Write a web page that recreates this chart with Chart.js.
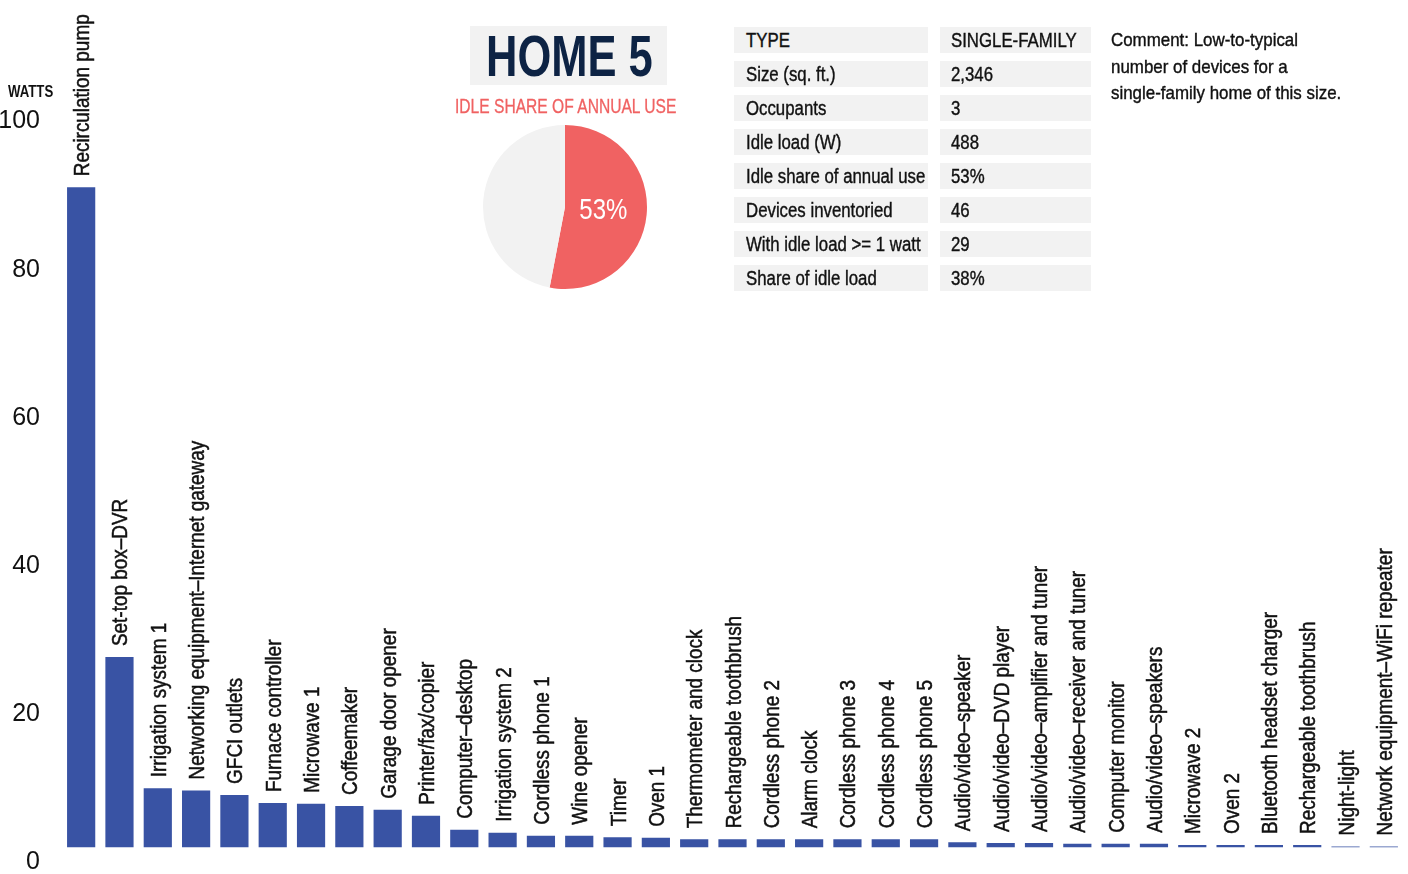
<!DOCTYPE html>
<html>
<head>
<meta charset="utf-8">
<script src="https://cdn.jsdelivr.net/npm/chart.js@4"></script>
<style>
  body { margin: 0; background: #fff; overflow: hidden; font-family: "Liberation Sans", Arial, sans-serif; color: #111; }
  #wrap { position: relative; width: 1408px; height: 874px; }
  #bars { position: absolute; left: 0; top: 0; }
  #pie { position: absolute; left: 481px; top: 123px; }
  .abs { position: absolute; white-space: nowrap; }
  .sq { display: inline-block; transform-origin: 0 50%; white-space: nowrap; }
  #watts { left: 8px; top: 82px; font-size: 16.5px; font-weight: bold; }
  #watts .sq { transform: scaleX(0.8); }
  #title { left: 470px; top: 26px; width: 197px; height: 59px; background: #f2f2f2; color: #0d2344;
           font-size: 58px; font-weight: bold; line-height: 59px; }
  #title .sq { transform: scaleX(0.75); margin-left: 16px; }
  #sub { left: 455px; top: 95px; color: #f06262; font-size: 20px; -webkit-text-stroke: 0.3px #f06262; }
  #sub .sq { transform: scaleX(0.78); }
  #info { left: 734px; top: 27px; }
  .row { position: relative; height: 26px; margin-bottom: 8px; }
  .cell { position: absolute; top: 0; height: 26px; background: #f2f2f2; font-size: 20px; line-height: 26px; padding-left: 12px; box-sizing: border-box; overflow: hidden; -webkit-text-stroke: 0.4px #111; }
  .cell .sq { transform: scaleX(0.84); }
  .c1 { left: 0; width: 194px; }
  .c2 { left: 206px; width: 151px; padding-left: 11px; }
  #comment { left: 1111px; top: 27px; font-size: 19px; line-height: 26.5px; -webkit-text-stroke: 0.4px #111; }
  #comment .sq { transform: scaleX(0.89); display: block; }
</style>
</head>
<body>
<div id="wrap">
  <canvas id="bars" width="1408" height="874"></canvas>
  <canvas id="pie" width="168" height="168"></canvas>
  <div id="watts" class="abs"><span class="sq">WATTS</span></div>
  <div id="title" class="abs"><span class="sq">HOME 5</span></div>
  <div id="sub" class="abs"><span class="sq">IDLE SHARE OF ANNUAL USE</span></div>
  <div id="info" class="abs"></div>
  <div id="comment" class="abs"><span class="sq">Comment: Low-to-typical</span><span class="sq">number of devices for a</span><span class="sq">single-family home of this size.</span></div>
</div>
<script>
// devices and their idle load in watts
var devices = [
  'Recirculation pump', 'Set-top box–DVR', 'Irrigation system 1',
  'Networking equipment–Internet gateway', 'GFCI outlets', 'Furnace controller',
  'Microwave 1', 'Coffeemaker', 'Garage door opener', 'Printer/fax/copier',
  'Computer–desktop', 'Irrigation system 2', 'Cordless phone 1', 'Wine opener',
  'Timer', 'Oven 1', 'Thermometer and clock', 'Rechargeable toothbrush',
  'Cordless phone 2', 'Alarm clock', 'Cordless phone 3', 'Cordless phone 4',
  'Cordless phone 5', 'Audio/video–speaker', 'Audio/video–DVD player',
  'Audio/video–amplifier and tuner', 'Audio/video–receiver and tuner',
  'Computer monitor', 'Audio/video–speakers', 'Microwave 2', 'Oven 2',
  'Bluetooth headset charger', 'Rechargeable toothbrush', 'Night-light',
  'Network equipment–WiFi repeater'
];
var watts = [
  89.1, 25.7, 8.0, 7.7, 7.1, 6.0, 5.9, 5.6, 5.1, 4.3,
  2.4, 2.0, 1.6, 1.6, 1.4, 1.3, 1.1, 1.1, 1.1, 1.1,
  1.1, 1.1, 1.1, 0.7, 0.6, 0.6, 0.5, 0.5, 0.5, 0.35,
  0.35, 0.35, 0.35, 0.15, 0.15
];
var yTicks = [0, 20, 40, 60, 80, 100];

// pie: idle share vs the rest
var pieLabels = ['Idle', 'Other'];
var pieValues = [53, 47];

// home summary table
var infoKeys = ['TYPE', 'Size (sq. ft.)', 'Occupants', 'Idle load (W)', 'Idle share of annual use',
  'Devices inventoried', 'With idle load >= 1 watt', 'Share of idle load'];
var infoValues = ['SINGLE-FAMILY', '2,346', '3', '488', '53%', '46', '29', '38%'];

var info = document.getElementById('info');
infoKeys.forEach(function (k, i) {
  var row = document.createElement('div');
  row.className = 'row';
  row.innerHTML = '<div class="cell c1"><span class="sq"></span></div><div class="cell c2"><span class="sq"></span></div>';
  row.children[0].firstChild.textContent = k;
  row.children[1].firstChild.textContent = infoValues[i];
  info.appendChild(row);
});

var FONT = '"Liberation Sans", Arial, sans-serif';
var blue = '#3953a4';

// write the device name up the bar
var barLabels = {
  id: 'barLabels',
  afterDatasetsDraw: function (chart) {
    var ctx = chart.ctx;
    var meta = chart.getDatasetMeta(0);
    ctx.save();
    ctx.fillStyle = '#111';
    ctx.strokeStyle = '#111';
    ctx.lineWidth = 0.5;
    ctx.font = '22px ' + FONT;
    ctx.textAlign = 'left';
    ctx.textBaseline = 'alphabetic';
    meta.data.forEach(function (bar, i) {
      ctx.save();
      ctx.translate(bar.x, bar.y - 11);
      ctx.rotate(-Math.PI / 2);
      ctx.scale(0.86, 1);
      ctx.fillText(devices[i], 0, 8);
      ctx.strokeText(devices[i], 0, 8);
      ctx.restore();
    });
    ctx.restore();
  }
};

new Chart(document.getElementById('bars'), {
  type: 'bar',
  data: {
    labels: devices,
    datasets: [{
      data: watts,
      backgroundColor: blue,
      borderWidth: 0,
      barPercentage: 0.92,
      categoryPercentage: 0.8
    }]
  },
  options: {
    responsive: false,
    animation: false,
    layout: { padding: { top: 106.5, bottom: 26.5, left: 0, right: 5 } },
    plugins: { legend: { display: false }, tooltip: { enabled: false } },
    scales: {
      x: { display: false },
      y: {
        min: 0, max: 100,
        afterFit: function (s) { s.width = 62; s.paddingTop = 0; s.paddingBottom = 0; },
        afterBuildTicks: function (s) { s.ticks = yTicks.map(function (v) { return { value: v }; }); },
        grid: { display: false, drawTicks: false },
        border: { display: false },
        ticks: { color: '#111', font: { family: FONT, size: 25 }, padding: 22, labelOffset: 15 }
      }
    }
  },
  plugins: [barLabels]
});

// percentage in the red slice
var pieText = {
  id: 'pieText',
  afterDatasetsDraw: function (chart) {
    var arc = chart.getDatasetMeta(0).data[0];
    var mid = (arc.startAngle + arc.endAngle) / 2;
    var r = arc.outerRadius * 0.47;
    var ctx = chart.ctx;
    ctx.save();
    ctx.fillStyle = '#fff';
    ctx.font = '30px ' + FONT;
    ctx.textAlign = 'center';
    ctx.textBaseline = 'middle';
    ctx.translate(arc.x + Math.cos(mid) * r, arc.y + Math.sin(mid) * r);
    ctx.scale(0.8, 1);
    ctx.fillText(pieValues[0] + '%', 0, 0);
    ctx.restore();
  }
};

new Chart(document.getElementById('pie'), {
  type: 'pie',
  data: {
    labels: pieLabels,
    datasets: [{ data: pieValues, backgroundColor: ['#f06262', '#f2f2f2'], borderWidth: 0 }]
  },
  options: {
    responsive: false,
    animation: false,
    layout: { padding: 2 },
    plugins: { legend: { display: false }, tooltip: { enabled: false } }
  },
  plugins: [pieText]
});
</script>
</body>
</html>
